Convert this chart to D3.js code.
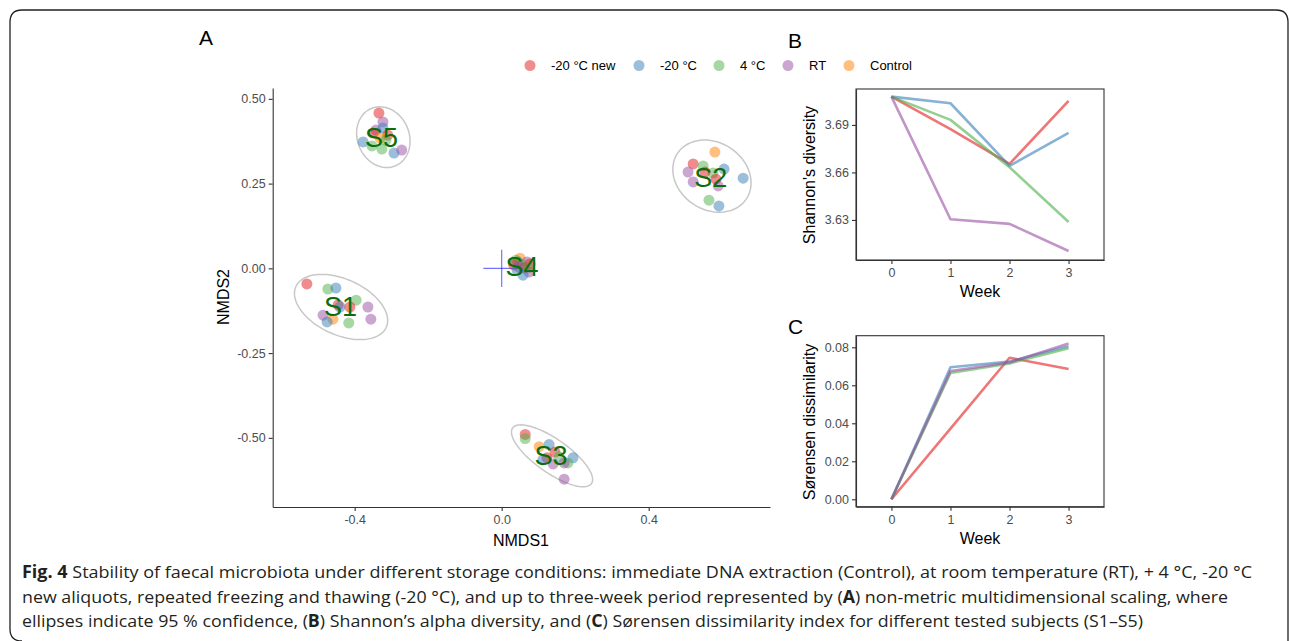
<!DOCTYPE html>
<html>
<head>
<meta charset="utf-8">
<script src="https://cdn.jsdelivr.net/npm/d3@7"></script>
<style>
  body { margin: 0; background: #fff; }
  svg { display: block; }
</style>
</head>
<body>
<svg id="chart" width="1290" height="641"></svg>
<script>
// ---------------- DATA ----------------
const conditions = ["-20 °C new", "-20 °C", "4 °C", "RT", "Control"];
const condColors = ["#E41A1C", "#377EB8", "#4DAF4A", "#984EA3", "#FF7F00"];

// NMDS points per subject: [NMDS1, NMDS2, condition index]
const S1 = [[-0.530,-0.046,0],[-0.473,-0.061,2],[-0.451,-0.058,1],[-0.396,-0.094,2],[-0.445,-0.108,0],
            [-0.440,-0.114,1],[-0.413,-0.114,0],[-0.364,-0.114,3],[-0.486,-0.138,3],[-0.459,-0.150,4],
            [-0.475,-0.158,1],[-0.416,-0.161,2],[-0.356,-0.150,3]];
const S2 = [[0.580,0.343,4],[0.521,0.308,0],[0.548,0.302,2],[0.605,0.293,1],[0.507,0.284,3],
            [0.575,0.281,2],[0.553,0.284,0],[0.583,0.263,0],[0.521,0.255,3],[0.589,0.243,3],
            [0.657,0.266,1],[0.564,0.201,2],[0.591,0.184,1]];
const S3 = [[0.064,-0.490,0],[0.064,-0.502,2],[0.102,-0.526,4],[0.129,-0.520,1],[0.145,-0.542,0],
            [0.123,-0.559,0],[0.156,-0.556,2],[0.194,-0.559,1],[0.112,-0.565,1],[0.140,-0.577,3],
            [0.180,-0.574,2],[0.170,-0.574,3],[0.170,-0.622,3]];
const S4 = [[0.050,0.030,4],[0.044,0.019,1],[0.069,0.019,3],[0.039,0.024,2],[0.055,0.010,2],
            [0.033,0.010,0],[0.077,0.013,0],[0.061,0.001,0],[0.072,0.001,2],[0.047,0.004,3],
            [0.042,-0.005,1],[0.074,-0.011,3],[0.058,-0.020,1]];
const S5 = [[-0.334,0.458,0],[-0.323,0.432,3],[-0.342,0.408,3],[-0.323,0.414,1],[-0.350,0.399,0],
            [-0.310,0.393,0],[-0.331,0.384,4],[-0.315,0.378,2],[-0.377,0.373,1],[-0.353,0.361,2],
            [-0.326,0.352,2],[-0.293,0.340,1],[-0.272,0.349,3]];
const subjects = ["S1", "S2", "S3", "S4", "S5"];
const subjectPoints = [S1, S2, S3, S4, S5];

// 95% ellipses: [centre x, centre y, semi-axis a, semi-axis b, angle (deg)]
const ellipseS1 = [-0.437, -0.114, 0.137, 0.081, -28];
const ellipseS2 = [0.572, 0.272, 0.116, 0.096, -45];
const ellipseS3 = [0.137, -0.553, 0.135, 0.048, -38];
const ellipseS5 = [-0.322, 0.387, 0.091, 0.071, -74];
const ellipses = [ellipseS1, ellipseS2, ellipseS3, ellipseS5];

const nmdsXTicks = [-0.4, 0.0, 0.4];
const nmdsYTicks = [-0.50, -0.25, 0.00, 0.25, 0.50];

// Weekly series (weeks 0..3), series order follows conditions[0..3]
const weeks = [0, 1, 2, 3];
const shannonNew   = [3.7079, 3.6873, 3.6654, 3.7052];
const shannonM20   = [3.7079, 3.7037, 3.6641, 3.6850];
const shannon4C    = [3.7079, 3.6932, 3.6633, 3.6287];
const shannonRT    = [3.7079, 3.6304, 3.6275, 3.6104];
const shannonTicks = [3.63, 3.66, 3.69];

const sorNew = [0.000, 0.0372, 0.0745, 0.0686];
const sorM20 = [0.000, 0.0695, 0.0725, 0.0805];
const sor4C  = [0.000, 0.0665, 0.0715, 0.0795];
const sorRT  = [0.000, 0.0675, 0.0720, 0.0820];
const sorTicks = [0.00, 0.02, 0.04, 0.06, 0.08];

// ---------------- DRAW ----------------
const svg = d3.select("#chart");
const FONT = "'Liberation Sans', Arial, sans-serif";
const AXIS = "#333333";
const TICKTXT = "#4d4d4d";

// frame
svg.append("path")
  .attr("d", "M22,641 Q10,641 10,629 L10,22 Q10,10 22,10 L1276,10 Q1288,10 1288,22 L1288,641")
  .attr("fill", "none").attr("stroke", "#231f20").attr("stroke-width", 1.3);

// panel letters
[["A", 199, 45], ["B", 788, 48], ["C", 788, 334]].forEach(([t, x, y]) => {
  svg.append("text").attr("x", x).attr("y", y).text(t)
    .attr("font-family", FONT).attr("font-size", 21).attr("fill", "#000");
});

// ---------- Panel A ----------
const xA = d3.scaleLinear().domain([-0.623, 0.73]).range([272.7, 770]);
const yA = d3.scaleLinear().domain([-0.704, 0.532]).range([507, 88]);
const gA = svg.append("g");

// ellipses
ellipses.forEach(([cx, cy, a, b, ang]) => {
  const th = ang * Math.PI / 180;
  const pts = d3.range(0, 101).map(i => {
    const t = i / 100 * 2 * Math.PI;
    const ex = cx + a * Math.cos(t) * Math.cos(th) - b * Math.sin(t) * Math.sin(th);
    const ey = cy + a * Math.cos(t) * Math.sin(th) + b * Math.sin(t) * Math.cos(th);
    return [xA(ex), yA(ey)];
  });
  gA.append("path").attr("d", d3.line()(pts) + "Z")
    .attr("fill", "none").attr("stroke", "#c8c8c8").attr("stroke-width", 1.5);
});

// origin cross
gA.append("line").attr("x1", xA(-0.05)).attr("x2", xA(0.05)).attr("y1", yA(0)).attr("y2", yA(0))
  .attr("stroke", "#0000ff").attr("stroke-opacity", 0.55).attr("stroke-width", 1.2);
gA.append("line").attr("x1", xA(0)).attr("x2", xA(0)).attr("y1", yA(0.055)).attr("y2", yA(-0.055))
  .attr("stroke", "#0000ff").attr("stroke-opacity", 0.55).attr("stroke-width", 1.2);

// points
subjectPoints.forEach(pts => {
  gA.selectAll(null).data(pts).enter().append("circle")
    .attr("cx", d => xA(d[0])).attr("cy", d => yA(d[1])).attr("r", 5.5)
    .attr("fill", d => condColors[d[2]]).attr("fill-opacity", 0.5);
});

// subject labels at centroids
subjectPoints.forEach((pts, i) => {
  const mx = d3.mean(pts, d => d[0]), my = d3.mean(pts, d => d[1]);
  gA.append("text").attr("x", xA(mx)).attr("y", yA(my)).attr("dy", "0.36em")
    .attr("text-anchor", "middle").attr("font-family", FONT).attr("font-size", 27)
    .attr("fill", "#0a6e0a").text(subjects[i]);
});

// axes A
function styleAxis(g) {
  g.select(".domain").attr("stroke", AXIS).attr("stroke-width", 1.1);
  g.selectAll(".tick line").attr("stroke", AXIS).attr("stroke-width", 1.1);
  g.selectAll(".tick text").attr("fill", TICKTXT).attr("font-family", FONT).attr("font-size", 12.5);
}
const axAx = gA.append("g").attr("transform", "translate(0,507)")
  .call(d3.axisBottom(xA).tickValues(nmdsXTicks).tickFormat(d3.format(".1f")).tickSize(4).tickSizeOuter(0).tickPadding(4));
styleAxis(axAx);
const axAy = gA.append("g").attr("transform", "translate(272.7,0)")
  .call(d3.axisLeft(yA).tickValues(nmdsYTicks).tickFormat(d3.format(".2f")).tickSize(4).tickSizeOuter(0).tickPadding(3));
styleAxis(axAy);
axAx.selectAll(".tick text").text(d => d3.format(".1f")(d).replace("−", "-"));
axAy.selectAll(".tick text").text(d => d3.format(".2f")(d).replace("−", "-"));

svg.append("text").attr("x", 521).attr("y", 546).attr("text-anchor", "middle")
  .attr("font-family", FONT).attr("font-size", 16).text("NMDS1");
svg.append("text").attr("transform", "translate(229,297) rotate(-90)").attr("text-anchor", "middle")
  .attr("font-family", FONT).attr("font-size", 16).text("NMDS2");

// legend
const legendX = [530, 639, 719, 788, 849];
conditions.forEach((c, i) => {
  svg.append("circle").attr("cx", legendX[i]).attr("cy", 65.5).attr("r", 5.5)
    .attr("fill", condColors[i]).attr("fill-opacity", 0.5);
  svg.append("text").attr("x", legendX[i] + 21).attr("y", 65.5).attr("dy", "0.35em")
    .attr("font-family", FONT).attr("font-size", 13).attr("fill", "#000").text(c);
});

// ---------- Panels B & C ----------
function linePanel(top, bottom, yDomain, ticks, fmt, series, title, titleY) {
  const x = d3.scaleLinear().domain([-0.6, 3.6]).range([856, 1104]);
  const y = d3.scaleLinear().domain(yDomain).range([bottom, top]);
  const g = svg.append("g");
  const line = d3.line().x((d, i) => x(weeks[i])).y(d => y(d));
  series.forEach((s, i) => {
    g.append("path").attr("d", line(s)).attr("fill", "none")
      .attr("stroke", condColors[i]).attr("stroke-opacity", 0.6).attr("stroke-width", 2.6)
      .attr("stroke-linejoin", "round");
  });
  const ax = g.append("g").attr("transform", `translate(0,${bottom})`)
    .call(d3.axisBottom(x).tickValues(weeks).tickFormat(d3.format("d")).tickSize(4).tickSizeOuter(0).tickPadding(4));
  styleAxis(ax);
  const ay = g.append("g").attr("transform", "translate(856,0)")
    .call(d3.axisLeft(y).tickValues(ticks).tickFormat(d3.format(fmt)).tickSize(4).tickSizeOuter(0).tickPadding(3));
  styleAxis(ay);
  g.append("rect").attr("x", 856).attr("y", top).attr("width", 1104 - 856).attr("height", bottom - top)
    .attr("fill", "none").attr("stroke", AXIS).attr("stroke-width", 1.1);
  g.append("text").attr("x", 980).attr("y", bottom + 37).attr("text-anchor", "middle")
    .attr("font-family", FONT).attr("font-size", 16).text("Week");
  g.append("text").attr("transform", `translate(815,${titleY}) rotate(-90)`).attr("text-anchor", "middle")
    .attr("font-family", FONT).attr("font-size", 16).text(title);
}
linePanel(89, 260, [3.6047, 3.7127], shannonTicks, ".2f",
  [shannonNew, shannonM20, shannon4C, shannonRT], "Shannon's diversity", 175);
linePanel(335.7, 506.7, [-0.0039, 0.0861], sorTicks, ".2f",
  [sorNew, sorM20, sor4C, sorRT], "Sørensen dissimilarity", 422);

// ---------- Caption ----------
const CAP = "'Open Sans', 'Noto Sans', sans-serif";
const capLines = [
  { y: 578, len: 1230, parts: [["Fig. 4", true], [" Stability of faecal microbiota under different storage conditions: immediate DNA extraction (Control), at room temperature (RT), + 4 °C, -20 °C", false]] },
  { y: 603, len: 1206, parts: [["new aliquots, repeated freezing and thawing (-20 °C), and up to three-week period represented by (", false], ["A", true], [") non-metric multidimensional scaling, where", false]] },
  { y: 627, len: 1121, parts: [["ellipses indicate 95 % confidence, (", false], ["B", true], [") Shannon’s alpha diversity, and (", false], ["C", true], [") Sørensen dissimilarity index for different tested subjects (S1–S5)", false]] }
];
capLines.forEach(l => {
  const t = svg.append("text").attr("x", 22).attr("y", l.y)
    .attr("font-family", CAP).attr("font-size", 17).attr("fill", "#231f20")
    .attr("textLength", l.len).attr("lengthAdjust", "spacingAndGlyphs")
    .style("white-space", "pre");
  l.parts.forEach(([s, b]) => {
    t.append("tspan").attr("font-weight", b ? "bold" : "normal").text(s);
  });
});
</script>
</body>
</html>
